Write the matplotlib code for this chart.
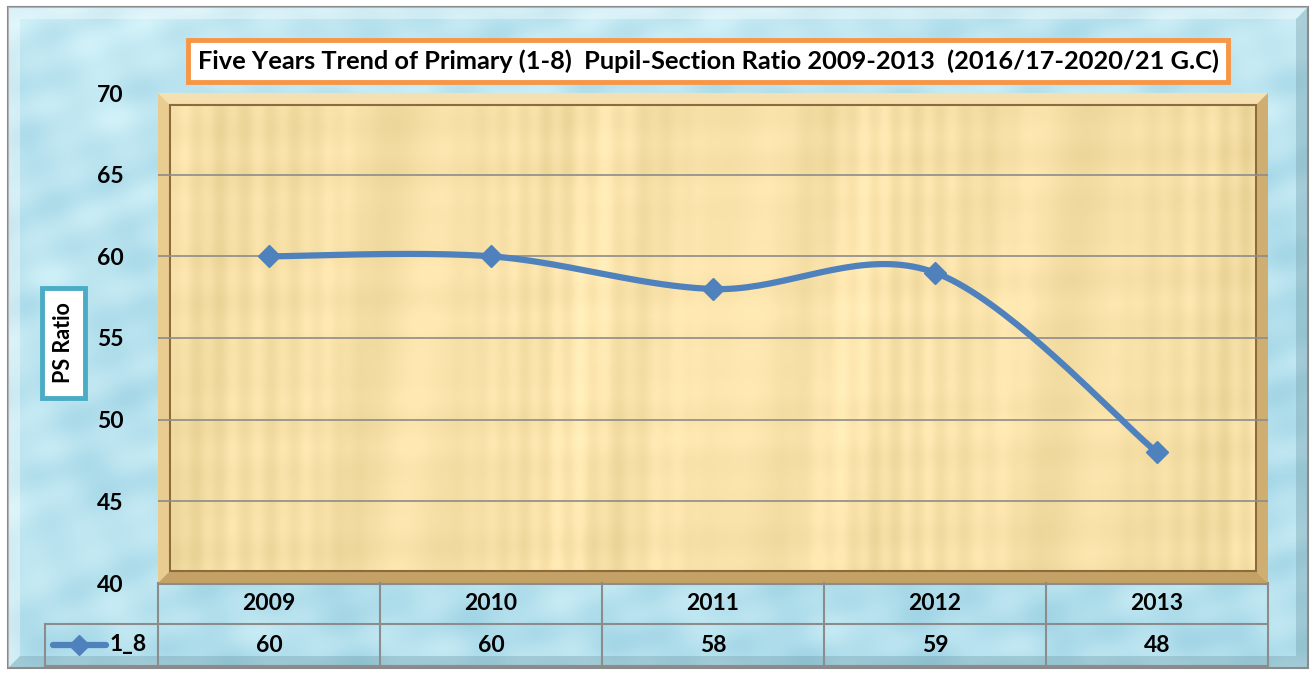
import matplotlib.pyplot as plt
import numpy as np
from matplotlib.patches import Rectangle, Polygon
from matplotlib.transforms import blended_transform_factory

# data
years = ['2009', '2010', '2011', '2012', '2013']
ps_ratio = [60, 60, 58, 59, 48]
series_name = '1_8'
title = 'Five Years Trend of Primary (1-8)  Pupil-Section Ratio 2009-2013  (2016/17-2020/21 G.C)'
ylabel = 'PS Ratio'
yticks = [40, 45, 50, 55, 60, 65, 70]

FONT = 'Lato'
LINE_C = '#4F81BD'
FS = 16.5
W, H = 1312, 674

fig = plt.figure(figsize=(W / 100, H / 100), dpi=100)
bg = fig.add_axes([0, 0, 1, 1])
bg.set_xlim(0, W); bg.set_ylim(H, 0); bg.axis('off')

# water-like background (soft gradient with gentle ripples)
yy, xx = np.mgrid[0:661, 0:1300]
base = np.array([0.76, 0.91, 0.95])
shade = 0.045 * np.sin(xx / 37.0 + np.sin(yy / 29.0) * 2) * np.cos(yy / 23.0 + xx / 61.0) \
    + 0.03 * np.sin(xx / 13.0 + yy / 19.0) * np.sin(yy / 11.0 - xx / 47.0)
grad = -0.05 * (yy / 661.0) - 0.02 * (xx / 1300.0)
img = np.clip(base[None, None, :] + (shade + grad)[..., None] * np.array([1.0, 0.6, 0.4]), 0, 1)
bg.imshow(img, extent=(8, 1308, 668, 7), aspect='auto', zorder=0)
bg.add_patch(Rectangle((8, 7), 1300, 661, fill=False, ec='#8a8a8a', lw=1.5, zorder=1))
# bevel of the background
bg.add_patch(Polygon([(1308, 7), (1308, 668), (8, 668), (20, 656), (1296, 656), (1296, 19)],
                     closed=True, fc='#6f9aa6', alpha=0.35, ec='none', zorder=1))
bg.add_patch(Polygon([(8, 7), (1308, 7), (1296, 19), (20, 19), (20, 656), (8, 668)],
                     closed=True, fc='white', alpha=0.35, ec='none', zorder=1))

# papyrus plot area
L, R, T, B = 158, 1268, 93, 583
py, px = np.mgrid[0:B - T, 0:R - L]
tan = np.array([0.95, 0.86, 0.63])
fib = 0.02 * np.sin(px / 3.7 + 0.8 * np.sin(px / 29.0)) * (0.5 + 0.5 * np.sin(px / 53.0)) \
    + 0.025 * np.sin(px / 17.0 + py / 150.0) * np.cos(px / 71.0)
hor = 0.01 * np.sin(py / 7.9 + px / 300.0) * np.sin(py / 43.0)
cen = 0.04 * np.exp(-(((px - 555) / 500.0) ** 2 + ((py - 245) / 260.0) ** 2))
pap = np.clip(tan[None, None, :] + (fib + hor + cen)[..., None] * np.array([1.0, 1.0, 1.3]), 0, 1)
bg.imshow(pap, extent=(L, R, B, T), aspect='auto', zorder=1)
bw = 12
bg.add_patch(Polygon([(L, T), (R, T), (R - bw, T + bw), (L + bw, T + bw)], fc='#f4e0b0', ec='none', zorder=2))
bg.add_patch(Polygon([(L, T), (L + bw, T + bw), (L + bw, B - bw), (L, B)], fc='#e8cc90', ec='none', zorder=2))
bg.add_patch(Polygon([(R, T), (R, B), (R - bw, B - bw), (R - bw, T + bw)], fc='#cfae72', ec='none', zorder=2))
bg.add_patch(Polygon([(L, B), (R, B), (R - bw, B - bw), (L + bw, B - bw)], fc='#c4a266', ec='none', zorder=2))
bg.add_patch(Rectangle((L + bw, T + bw), R - L - 2 * bw, B - T - 2 * bw, fill=False, ec='#8c6c3c', lw=1.5, zorder=2))

# main axes
ax = fig.add_axes([L / W, (H - B) / H, (R - L) / W, (B - T) / H], zorder=3)
ax.patch.set_visible(False)
ax.set_xlim(-0.5, len(years) - 0.5)
ax.set_ylim(40, 70)
ax.set_yticks(yticks)
ax.set_yticklabels([str(v) for v in yticks], fontfamily=FONT, fontweight='bold', fontsize=FS)
ax.tick_params(axis='y', length=0, pad=25)
ax.set_xticks([])
for s in ax.spines.values():
    s.set_visible(False)
for v in yticks[1:-1]:
    ax.axhline(v, color='#8c8c8c', lw=1.2, zorder=1)

# smoothed line (Bezier smoothing like Excel's smoothed line)
xs = np.arange(len(ps_ratio), dtype=float)
ys = np.array(ps_ratio, dtype=float)
P = np.column_stack([xs, ys])
P = np.vstack([P[0], P, P[-1]])
cx, cy = [], []
t = np.linspace(0, 1, 40)
for i in range(1, len(P) - 2):
    p0, p1, p2, p3 = P[i - 1], P[i], P[i + 1], P[i + 2]
    c1 = p1 + (p2 - p0) / 6.0
    c2 = p2 - (p3 - p1) / 6.0
    seg = ((1 - t) ** 3)[:, None] * p1 + (3 * (1 - t) ** 2 * t)[:, None] * c1 \
        + (3 * (1 - t) * t ** 2)[:, None] * c2 + (t ** 3)[:, None] * p2
    cx.extend(seg[:, 0]); cy.extend(seg[:, 1])
ax.plot(cx, cy, color=LINE_C, lw=4.5, solid_capstyle='round', zorder=4)
ax.plot(xs, ys, ls='none', marker='D', ms=11, color=LINE_C, zorder=5)

# data table
tr = blended_transform_factory(ax.transData, bg.transData)
gc = '#8c8c8c'
bg.plot([L, R], [B + 1, B + 1], color=gc, lw=1.5, zorder=4)
bg.plot([45, R], [624, 624], color=gc, lw=1.5, zorder=4)
bg.plot([45, R], [666, 666], color=gc, lw=1.5, zorder=4)
bg.plot([45, 45], [624, 666], color=gc, lw=1.5, zorder=4)
bg.plot([L, L], [B, 666], color=gc, lw=1.5, zorder=4)
for i in range(len(years)):
    ax.plot([i + 0.5, i + 0.5], [B, 666], color=gc, lw=1.5, transform=tr, clip_on=False, zorder=4)
    ax.text(i, 604, years[i], transform=tr, ha='center', va='center', fontfamily=FONT,
            fontweight='bold', fontsize=FS, clip_on=False)
    ax.text(i, 645, str(ps_ratio[i]), transform=tr, ha='center', va='center', fontfamily=FONT,
            fontweight='bold', fontsize=FS, clip_on=False)
# legend key
bg.plot([53, 106], [645, 645], color=LINE_C, lw=4.5, solid_capstyle='round', zorder=5)
bg.plot([79], [645], marker='D', ms=10, color=LINE_C, zorder=6)
bg.text(110, 645, series_name, ha='left', va='center', fontfamily=FONT, fontweight='bold', fontsize=FS, zorder=6)

# title and y label boxes
bg.add_patch(Rectangle((188, 40), 1040, 42, fc='white', ec='#F79646', lw=3.5, zorder=5))
bg.text(708, 61, title, ha='center', va='center', fontfamily=FONT, fontweight='bold', fontsize=18.3, zorder=6)
bg.add_patch(Rectangle((42, 288), 43, 110, fc='white', ec='#4BACC6', lw=3.5, zorder=5))
bg.text(63.5, 343, ylabel, ha='center', va='center', rotation=90, fontfamily=FONT,
        fontweight='bold', fontsize=15.5, zorder=6)

fig.savefig('out.png', dpi=100)
